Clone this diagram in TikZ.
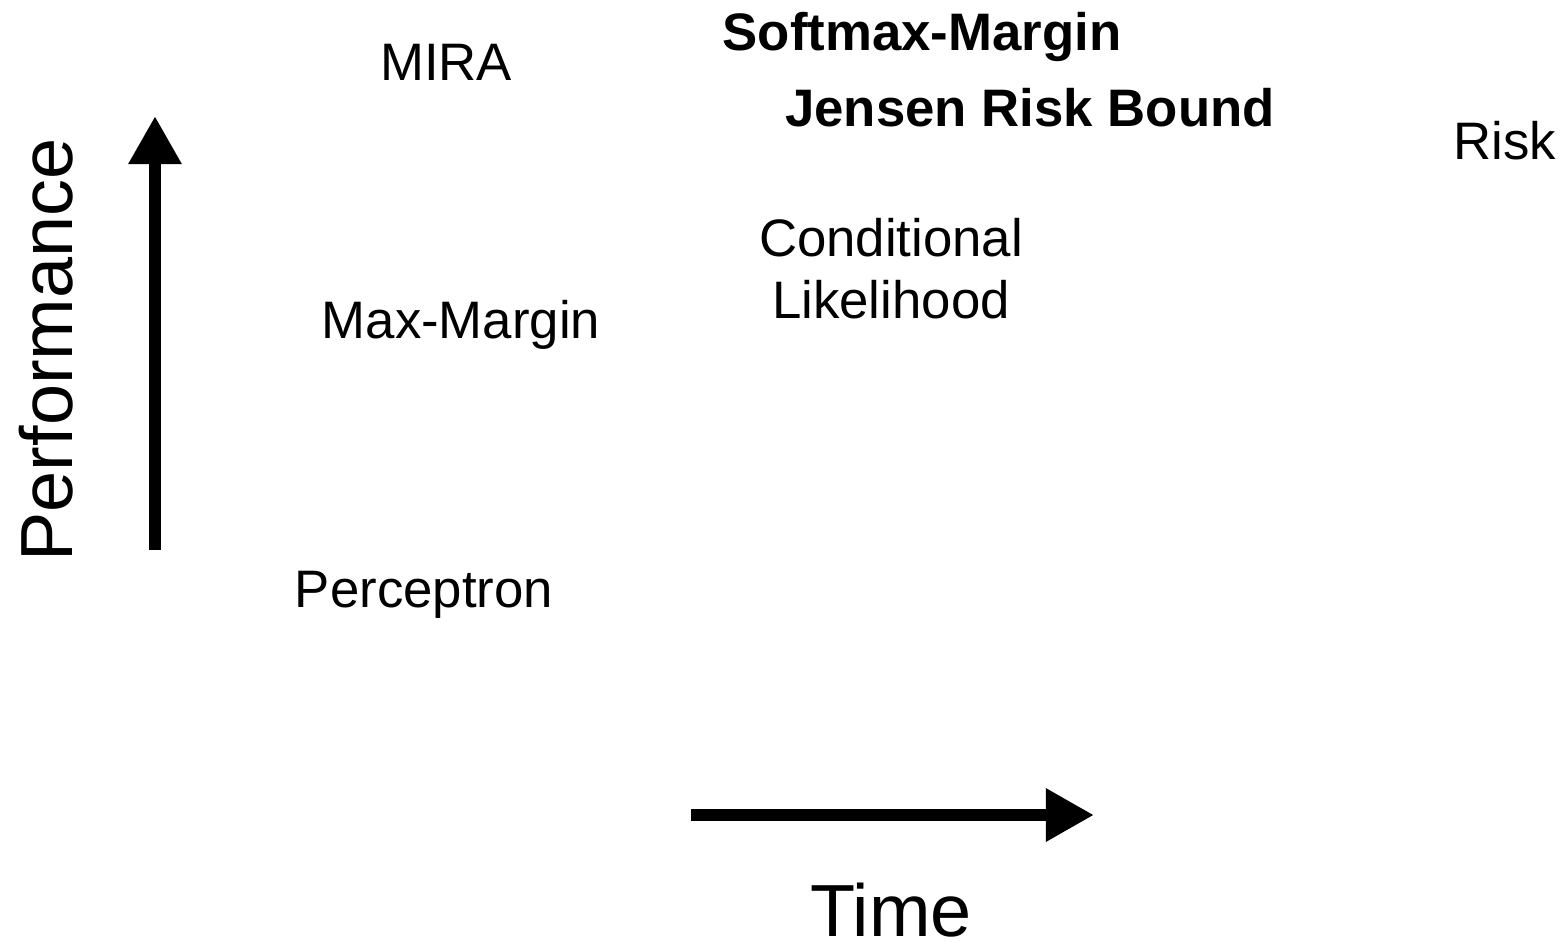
\documentclass[tikz,border=0pt]{standalone}
\usepackage{fontspec}
\setmainfont{Liberation Sans}
\usetikzlibrary{arrows.meta}
\begin{document}
\begin{tikzpicture}[x=0.01cm,y=-0.01cm,
  lbl/.style={anchor=base,inner sep=0pt,font=\fontsize{15}{18}\selectfont},
  blbl/.style={lbl,font=\fontsize{15}{18}\selectfont\bfseries},
  axlbl/.style={anchor=base,inner sep=0pt,font=\fontsize{21}{25}\selectfont},
  axarrow/.style={line width=0.12cm,-{Triangle[length=0.48cm,width=0.5cm]}}]
\useasboundingbox (0,0) rectangle (1566,947);
\node[lbl] (mira) at (446,80) {MIRA};
\node[blbl] (smm) at (922,50) {Softmax-Margin};
\node[blbl] (jrb) at (1030,126) {Jensen Risk Bound};
\node[lbl] (risk) at (1505,159) {Risk};
\node[lbl] (cond) at (891,256) {Conditional};
\node[lbl] (lik) at (891,318) {Likelihood};
\node[lbl] (mm) at (461,338) {Max-Margin};
\node[lbl] (perc) at (424,607) {Perceptron};
\node[axlbl] (time) at (891,936) {Time};
\node[axlbl,rotate=90] (perf) at (72,350) {Performance};
\coordinate (v0) at (155,550);
\coordinate (v1) at (155,116);
\coordinate (h0) at (691,815);
\coordinate (h1) at (1094,815);
\draw[axarrow] (v0) -- (v1);
\draw[axarrow] (h0) -- (h1);
\end{tikzpicture}
\end{document}
